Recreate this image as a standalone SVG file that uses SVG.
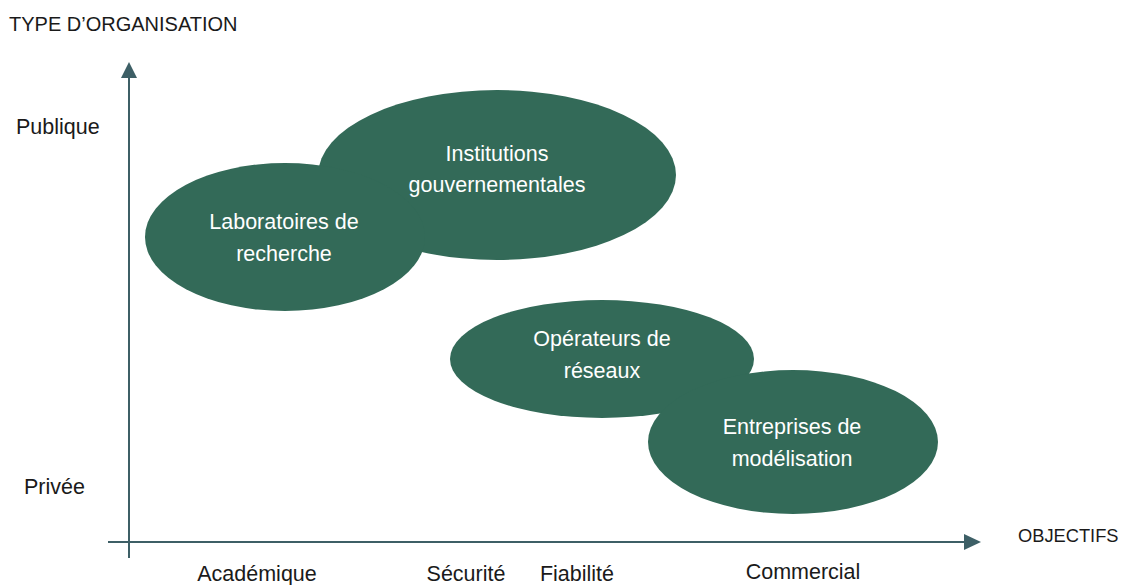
<svg xmlns="http://www.w3.org/2000/svg" width="1121" height="585" viewBox="0 0 1121 585">
<style>
.node{fill:#336a58}
.nt{fill:#ffffff;font-family:"Liberation Sans",Arial,sans-serif;font-size:21.5px;text-anchor:middle}
.lbl{fill:#1a1a1a;font-family:"Liberation Sans",Arial,sans-serif;font-size:21.5px}
.up{font-size:20px}
.ob{font-size:18.3px}
.axis{stroke:#3d5f66;stroke-width:2;fill:none}
.head{fill:#3d5f66}
</style>
<rect width="1121" height="585" fill="#ffffff"/>
<g id="connectors">
<line class="axis" x1="129" y1="558" x2="129" y2="70"/>
<path class="head" d="M121,78 L129,62 L137,78 z"/>
<line class="axis" x1="108" y1="542" x2="970" y2="542"/>
<path class="head" d="M964,534 L981,542 L964,550 z"/>
</g>
<g id="node-gov">
<ellipse class="node" cx="497" cy="175" rx="179" ry="85"/>
<text class="nt" x="497" y="161">Institutions</text>
<text class="nt" x="497" y="192">gouvernementales</text>
</g>
<g id="node-lab">
<ellipse class="node" cx="285" cy="237" rx="140" ry="74"/>
<text class="nt" x="284" y="229">Laboratoires de</text>
<text class="nt" x="284" y="261">recherche</text>
</g>
<g id="node-ops">
<ellipse class="node" cx="602" cy="359" rx="152" ry="59"/>
<text class="nt" x="602" y="346">Opérateurs de</text>
<text class="nt" x="602" y="378">réseaux</text>
</g>
<g id="node-ent">
<ellipse class="node" cx="793" cy="442" rx="145" ry="72"/>
<text class="nt" x="792" y="434">Entreprises de</text>
<text class="nt" x="792" y="466">modélisation</text>
</g>
<g id="labels">
<text class="lbl up" x="9" y="31">TYPE D’ORGANISATION</text>
<text class="lbl" x="16" y="134">Publique</text>
<text class="lbl" x="24" y="494">Privée</text>
<text class="lbl ob" x="1018" y="542">OBJECTIFS</text>
<text class="lbl" x="257" y="581" text-anchor="middle">Académique</text>
<text class="lbl" x="466" y="581" text-anchor="middle">Sécurité</text>
<text class="lbl" x="577" y="581" text-anchor="middle">Fiabilité</text>
<text class="lbl" x="803" y="579" text-anchor="middle">Commercial</text>
</g>
</svg>
